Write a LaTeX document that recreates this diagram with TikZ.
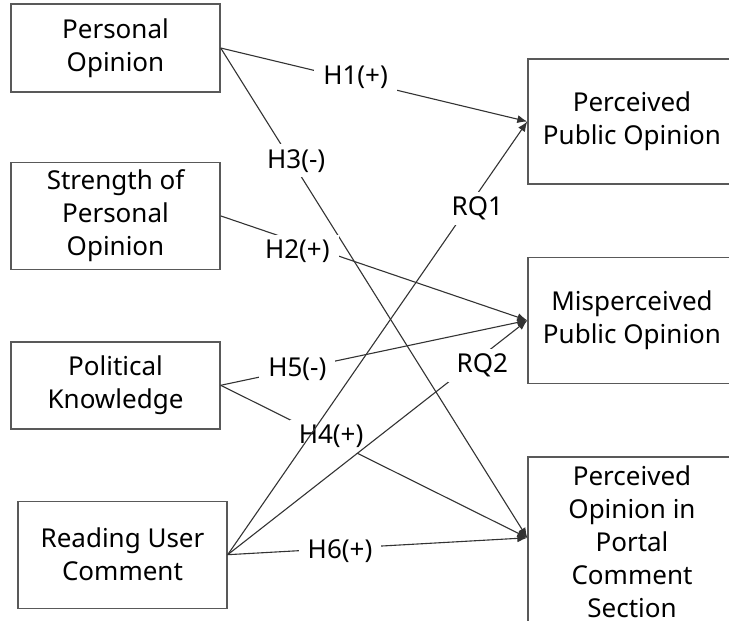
\documentclass[tikz,border=0pt]{standalone}
\usepackage{fontspec}
\setmainfont{Noto Sans}
\usetikzlibrary{positioning,arrows.meta}

\begin{document}
\begin{tikzpicture}[x=1pt,y=-1pt,
        box/.style={draw=black!65,line width=1.4pt,align=center,inner sep=0pt,minimum width=209pt,font=\fontsize{26}{33}\selectfont},
        link/.style={draw=black!80,line width=1.1pt,-{Latex[length=10pt,width=8pt]}},
        hyp/.style={fill=white,inner xsep=9pt,inner ysep=5pt,font=\fontsize{26}{33}\selectfont}]
        \useasboundingbox (0,0) rectangle (729,621);
        \clip (0,0) rectangle (729,621);
        \node[box,minimum height=88pt] (po) at (115.5,48) {Personal\\Opinion};
        \node[box,minimum height=107pt,below=69pt of po] (spo) {Strength of\\Personal\\Opinion};
        \node[box,minimum height=87pt,below=71pt of spo] (pk) {Political\\Knowledge};
        \node[box,minimum height=107pt,below=71pt of pk,xshift=7pt] (ruc) {Reading User\\Comment};
        \node[box,minimum width=208pt,minimum height=125pt] (ppo) at (632,121.5) {Perceived\\Public Opinion};
        \node[box,minimum width=208pt,minimum height=126pt,below=72pt of ppo] (mpo) {Misperceived\\Public Opinion};
        \node[box,minimum width=208pt,minimum height=170pt,below=72pt of mpo] (poc) {Perceived\\Opinion in\\Portal\\Comment\\Section};
        \draw[link] (po.east) -- node[hyp,pos=0.44,yshift=3pt] (h1) {H1(+)} (ppo.west);
        \draw[link] (po.east) -- node[hyp,pos=0.23,xshift=5pt] (h3) {H3(-)} ([yshift=4pt]poc.west);
        \draw[link] (spo.east) -- node[hyp,pos=0.25,yshift=-9pt] (h2) {H2(+)} (mpo.west);
        \draw[link] (pk.east) -- node[hyp,pos=0.25] (h5) {H5(-)} (mpo.west);
        \draw[link] (pk.east) -- node[hyp,pos=0.36,yshift=4pt] (h4) {H4(+)} ([yshift=4pt]poc.west);
        \draw[link] (ruc.east) -- node[hyp,pos=0.375,yshift=-3pt] (h6) {H6(+)} ([yshift=4pt]poc.west);
        \draw[link] (ruc.east) -- node[hyp,pos=0.85,yshift=-10pt] (rq2) {RQ2} (mpo.west);
        \draw[link] (ruc.east) -- node[hyp,pos=0.8,xshift=10pt] (rq1) {RQ1} (ppo.west);
\end{tikzpicture}
\end{document}
